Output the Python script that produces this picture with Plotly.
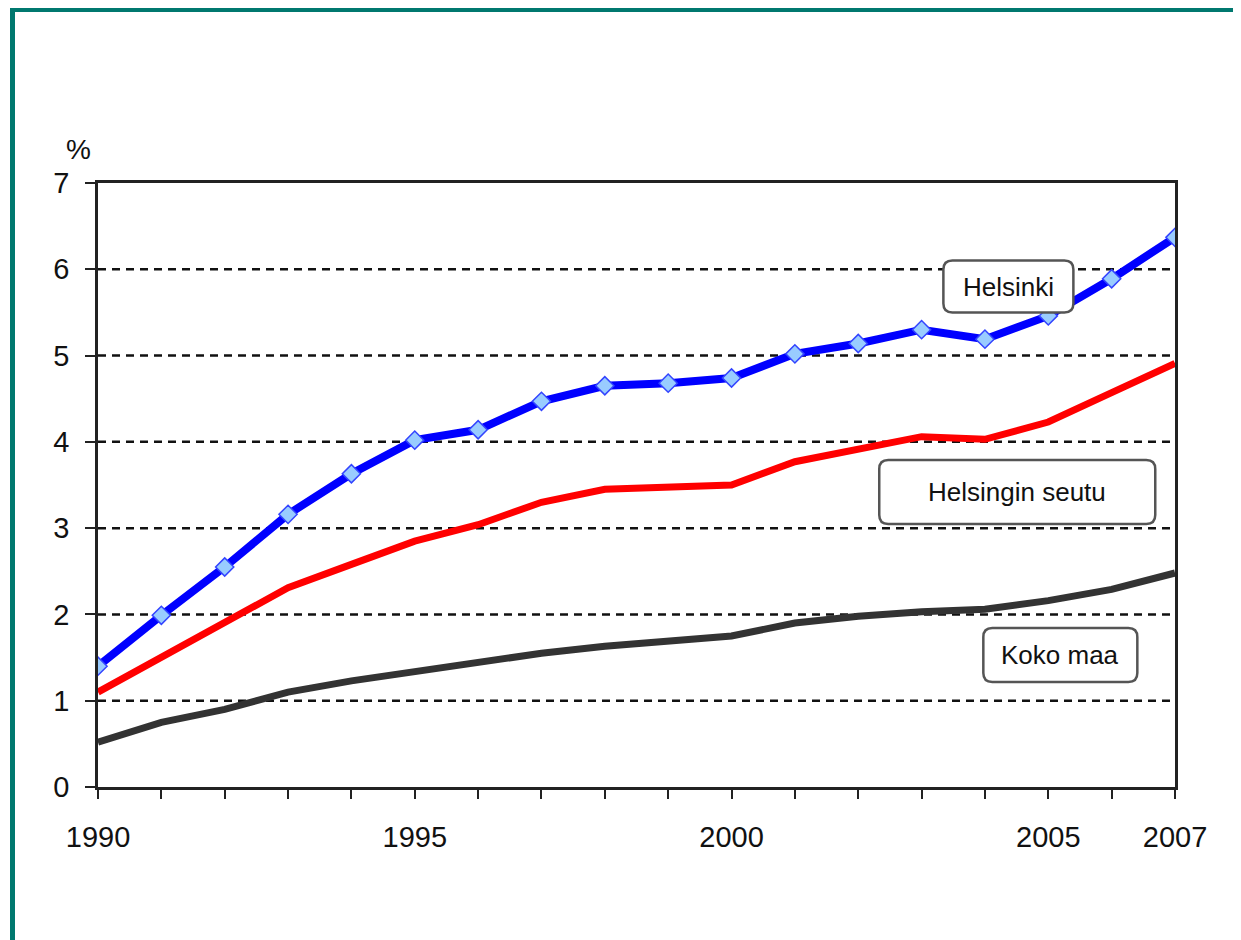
import plotly.graph_objects as go

years = list(range(1990, 2008))
helsinki = [1.40, 1.99, 2.55, 3.16, 3.63, 4.02, 4.14, 4.47, 4.65, 4.68, 4.74, 5.02, 5.14, 5.30, 5.19, 5.46, 5.89, 6.37]
helsingin_seutu = [1.10, 1.51, 1.92, 2.31, 2.58, 2.85, 3.04, 3.30, 3.45, 3.48, 3.50, 3.77, 3.91, 4.06, 4.03, 4.23, 4.57, 4.91]
koko_maa = [0.52, 0.75, 0.90, 1.10, 1.23, 1.34, 1.44, 1.55, 1.63, 1.69, 1.75, 1.90, 1.98, 2.03, 2.06, 2.16, 2.29, 2.48]

x_labels = {1990: "1990", 1995: "1995", 2000: "2000", 2005: "2005", 2007: "2007"}
y_ticks = [0, 1, 2, 3, 4, 5, 6, 7]

# label boxes: text, x (year), y (value), half width px, half height px
label_boxes = [
    ("Helsinki", 2004.37, 5.80, 65, 26),
    ("Helsingin seutu", 2004.51, 3.42, 138, 32),
    ("Koko maa", 2005.19, 1.53, 77, 27),
]

FONT = "Liberation Sans, Arial, sans-serif"
OFF = 8  # page body margin

fig = go.Figure()
fig.add_trace(go.Scatter(x=years, y=koko_maa, mode="lines", name="Koko maa",
                         line=dict(color="#333333", width=7)))
fig.add_trace(go.Scatter(x=years, y=helsingin_seutu, mode="lines", name="Helsingin seutu",
                         line=dict(color="#FF0000", width=7)))
fig.add_trace(go.Scatter(x=years, y=helsinki, mode="lines+markers", name="Helsinki",
                         line=dict(color="#0000FF", width=8),
                         marker=dict(symbol="diamond", size=14, color="#99CCFF",
                                     line=dict(color="#3344FF", width=1.5))))

shapes = []
for v in y_ticks[1:-1]:
    shapes.append(dict(type="line", xref="paper", yref="y", x0=0, x1=1, y0=v, y1=v,
                       line=dict(color="#111111", width=2.5, dash="8px,6px"), layer="below"))

annotations = []
for text, xa, ya, hw, hh in label_boxes:
    r = 9
    path = (f"M {-hw+r},{-hh} L {hw-r},{-hh} Q {hw},{-hh} {hw},{-hh+r} "
            f"L {hw},{hh-r} Q {hw},{hh} {hw-r},{hh} L {-hw+r},{hh} Q {-hw},{hh} {-hw},{hh-r} "
            f"L {-hw},{-hh+r} Q {-hw},{-hh} {-hw+r},{-hh} Z")
    shapes.append(dict(type="path", xref="x", yref="y", xsizemode="pixel", ysizemode="pixel",
                       xanchor=xa, yanchor=ya, path=path, fillcolor="white",
                       line=dict(color="#555555", width=2.5), layer="above"))
    annotations.append(dict(x=xa, y=ya, xref="x", yref="y", text=text, showarrow=False,
                            font=dict(family=FONT, size=26, color="#111111")))

annotations.append(dict(x=-0.032, y=1.085, xref="paper", yref="paper", text="%", showarrow=False,
                        font=dict(family=FONT, size=28, color="#111111")))

W, H = 1241, 940
L, R, T, B = 98 - OFF, 66 + OFF, 183 - OFF, 153 + OFF
pw, ph = W - L - R, H - T - B
def fx(px):
    return (px - OFF - L) / pw
def fy(py):
    return (H - B - (py - OFF)) / ph
teal = "#00786F"
shapes.append(dict(type="line", xref="paper", yref="paper", x0=fx(12.5), x1=fx(12.5),
                   y0=fy(7), y1=fy(980), line=dict(color=teal, width=5)))
shapes.append(dict(type="line", xref="paper", yref="paper", x0=fx(10), x1=fx(1290),
                   y0=fy(9.5), y1=fy(9.5), line=dict(color=teal, width=5)))

fig.update_layout(
    width=W, height=H,
    margin=dict(l=L, r=R, t=T, b=B),
    paper_bgcolor="white", plot_bgcolor="white",
    showlegend=False,
    shapes=shapes, annotations=annotations,
    font=dict(family=FONT, size=29, color="#111111"),
)
fig.update_xaxes(range=[1990, 2007], tickmode="array", tickvals=years,
                 ticktext=[x_labels.get(y, "") for y in years],
                 ticks="outside", ticklen=9, tickwidth=2, tickcolor="#222222",
                 showline=True, linecolor="#222222", linewidth=2.5, mirror=True,
                 showgrid=False, zeroline=False, ticklabelstandoff=13,
                 tickfont=dict(family=FONT, size=29, color="#111111"))
fig.update_yaxes(range=[0, 7], tickmode="array", tickvals=y_ticks,
                 ticks="outside", ticklen=10, tickwidth=2, tickcolor="#222222",
                 showline=True, linecolor="#222222", linewidth=2.5, mirror=True,
                 showgrid=False, zeroline=False, ticklabelstandoff=10,
                 tickfont=dict(family=FONT, size=29, color="#111111"))

fig.write_html("out.html")
